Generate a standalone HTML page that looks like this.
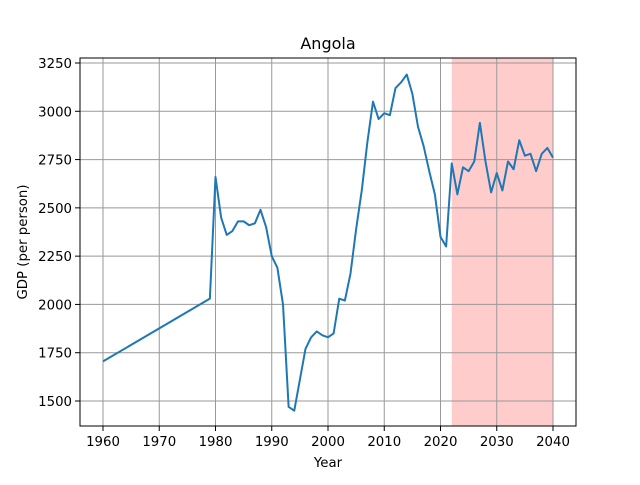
<!DOCTYPE html>
<html><head><meta charset="utf-8"><style>
body{margin:0;background:#fff;}
svg{font-family:"DejaVu Sans","Liberation Sans",sans-serif;}
</style></head><body>
<svg id="chart" width="640" height="480">
<rect x="0" y="0" width="640" height="480" fill="#fff"/>
<g id="plot"></g>
</svg>
<script>
const years=[1960,1979,1980,1981,1982,1983,1984,1985,1986,1987,1988,1989,1990,1991,1992,1993,1994,1995,1996,1997,1998,1999,2000,2001,2002,2003,2004,2005,2006,2007,2008,2009,2010,2011,2012,2013,2014,2015,2016,2017,2018,2019,2020,2021,2022,2023,2024,2025,2026,2027,2028,2029,2030,2031,2032,2033,2034,2035,2036,2037,2038,2039,2040];
const gdp=[1705,2030,2660,2450,2360,2380,2430,2430,2410,2420,2490,2400,2250,2190,2000,1470,1450,1610,1770,1830,1860,1840,1830,1850,2030,2020,2160,2390,2590,2840,3050,2960,2990,2980,3120,3150,3190,3090,2920,2820,2690,2570,2350,2300,2730,2570,2710,2690,2740,2940,2740,2580,2680,2590,2740,2700,2850,2770,2780,2690,2780,2810,2760];
const xTicks=[1960,1970,1980,1990,2000,2010,2020,2030,2040];
const yTicks=[1500,1750,2000,2250,2500,2750,3000,3250];
const forecast=[2022,2040];
const L=80,R=576,T=58,B=426;
const X=v=>103+(v-1960)*450/80;
const Y=v=>401-(v-1500)*338/1750;
const g=document.getElementById('plot');
const NS='http://www.w3.org/2000/svg';
function mk(t,a){const e=document.createElementNS(NS,t);for(const k in a)e.setAttribute(k,a[k]);g.appendChild(e);return e;}
let e=mk('rect',{x:X(forecast[0]),y:T,width:X(forecast[1])-X(forecast[0]),height:B-T,fill:'#ffcccc'});


xTicks.forEach(v=>{
 let l=mk('line',{x1:X(v),x2:X(v),y1:T,y2:B,stroke:'#999','stroke-width':1});
 
 
 mk('line',{x1:X(v),x2:X(v),y1:B,y2:B+5,stroke:'#000'});
 let t=mk('text',{x:X(v),y:B+20,'text-anchor':'middle','font-size':13.3});
 t.textContent=v;
 
 
});
yTicks.forEach(v=>{
 let l=mk('line',{x1:L,x2:R,y1:Y(v),y2:Y(v),stroke:'#999','stroke-width':1});
 
 
 mk('line',{x1:L-5,x2:L,y1:Y(v),y2:Y(v),stroke:'#000'});
 let t=mk('text',{x:L-8,y:Y(v)+5,'text-anchor':'end','font-size':13.3});
 t.textContent=v;
 
 
});
let p=mk('polyline',{points:years.map((y,i)=>X(y)+','+Y(gdp[i])).join(' '),fill:'none',stroke:'#1f77b4','stroke-width':2,'stroke-linejoin':'round'});


let f=mk('rect',{x:L,y:T,width:R-L,height:B-T,fill:'none',stroke:'#000','stroke-width':1});


let tt=mk('text',{x:(L+R)/2,y:T-9,'text-anchor':'middle','font-size':16});
tt.textContent='Angola';


let xl=mk('text',{x:(L+R)/2,y:467,'text-anchor':'middle','font-size':13.3});
xl.textContent='Year';


let yl=mk('text',{x:0,y:0,'text-anchor':'middle','font-size':13.3,transform:'translate(27,'+(T+B)/2+') rotate(-90)'});
yl.textContent='GDP (per person)';


</script>
</body></html>
